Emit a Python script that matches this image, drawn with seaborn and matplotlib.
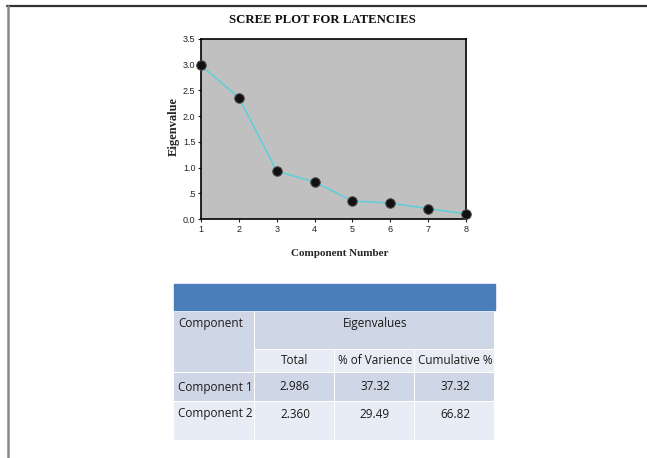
import matplotlib
matplotlib.use("Agg")
import matplotlib.pyplot as plt
from matplotlib.patches import Rectangle
from matplotlib.lines import Line2D
import seaborn as sns
import pandas as pd

# scree values
components = [1, 2, 3, 4, 5, 6, 7, 8]
eigenvalues = [2.986, 2.36, 0.93, 0.72, 0.35, 0.31, 0.20, 0.10]
y_ticks = [0.0, 0.5, 1.0, 1.5, 2.0, 2.5, 3.0, 3.5]
y_tick_labels = ["0.0", ".5", "1.0", "1.5", "2.0", "2.5", "3.0", "3.5"]

# table contents
table_sub_header = ["Total", "% of Varience", "Cumulative %"]
row_names = ["Component 1", "Component 2"]
totals = ["2.986", "2.360"]
pct_variance = ["37.32", "29.49"]
cumulative = ["37.32", "66.82"]

W, H = 647, 458
sns.set_style("white")
fig = plt.figure(figsize=(W / 100, H / 100), dpi=100)
fig.patch.set_facecolor("white")

# frame lines of the page
fig.add_artist(Line2D([7 / W, 1], [1 - 6 / H, 1 - 6 / H], color="#333333", lw=1.6))
fig.add_artist(Line2D([7.5 / W, 7.5 / W], [0, 1 - 6 / H], color="#8a8a8a", lw=1.8))

serif = "Liberation Serif"
sans = "Liberation Sans"

fig.text(322 / W, 1 - 20 / H, "SCREE PLOT FOR LATENCIES", ha="center", va="center",
         fontsize=9.2, fontweight="bold", family=serif, color="#111111")

# scree plot
ax = fig.add_axes([201 / W, 1 - 219 / H, 265 / W, 180 / H])
ax.set_facecolor("#c0c0c0")
df = pd.DataFrame({"Component": components, "Eigenvalue": eigenvalues})
sns.lineplot(data=df, x="Component", y="Eigenvalue", ax=ax, color="#55d0de", lw=1.0)
sns.scatterplot(data=df, x="Component", y="Eigenvalue", ax=ax, color="#111111",
                s=48, edgecolor="#555555", linewidth=0.7, zorder=5, clip_on=False)
ax.set_xlim(1, 8)
ax.set_ylim(0, 3.5)
ax.set_xticks(components)
ax.set_xticklabels([str(c) for c in components], fontsize=6.5, family=sans, color="#333333")
ax.set_yticks(y_ticks)
ax.set_yticklabels(y_tick_labels, fontsize=6.5, family=sans, color="#333333")
ax.tick_params(axis="both", direction="out", length=2.5, width=0.8, pad=1.5, colors="#222222",
               left=True, bottom=True)
for s in ax.spines.values():
    s.set_color("black")
    s.set_linewidth(1.2)
for c in ax.get_children():
    if isinstance(c, Line2D):
        c.set_clip_on(False)
ax.set_xlabel("Component Number", fontsize=8, fontweight="bold", family=serif)
ax.xaxis.set_label_coords((340 - 201) / 265, -(249 - 219) / 180)
ax.set_ylabel("Eigenvalue", fontsize=9, fontweight="bold", family=serif)
ax.yaxis.set_label_coords(-(201 - 180) / 265, (219 - 126) / 180)

# table drawn in pixel coordinates
tax = fig.add_axes([0, 0, 1, 1])
tax.set_xlim(0, W)
tax.set_ylim(H, 0)
tax.axis("off")

dark = "#cfd7e6"
light = "#e8ecf4"
blue = "#4a7ebb"
cols = [174, 255, 335, 415, 495]
tax.add_patch(Rectangle((174, 284), 321, 26, color=blue))


def cell(x0, x1, y0, y1, col):
    tax.add_patch(Rectangle((x0, y0), x1 - x0 - 1, y1 - y0 - 1, color=col, lw=0))


cell(cols[0], cols[1], 312, 373, dark)
cell(cols[1], cols[4], 312, 350, dark)
for i in range(3):
    cell(cols[i + 1], cols[i + 2], 350, 373, light)
for i in range(4):
    cell(cols[i], cols[i + 1], 373, 402, dark)
    cell(cols[i], cols[i + 1], 402, 441, light)

tfont = dict(fontsize=8.5, family="Open Sans", color="#1a1a1a")
tax.text(178, 323, "Component", ha="left", va="center", **tfont)
tax.text(375, 323, "Eigenvalues", ha="center", va="center", **tfont)
for i, lab in enumerate(table_sub_header):
    tax.text((cols[i + 1] + cols[i + 2]) / 2, 361, lab, ha="center", va="center", **tfont)
row_y = [387, 414]
for r, name in enumerate(row_names):
    tax.text(178, row_y[r], name, ha="left", va="center", **tfont)
    for i, v in enumerate([totals[r], pct_variance[r], cumulative[r]]):
        tax.text((cols[i + 1] + cols[i + 2]) / 2, row_y[r], v, ha="center", va="center", **tfont)

fig.savefig("out.png", dpi=100)
